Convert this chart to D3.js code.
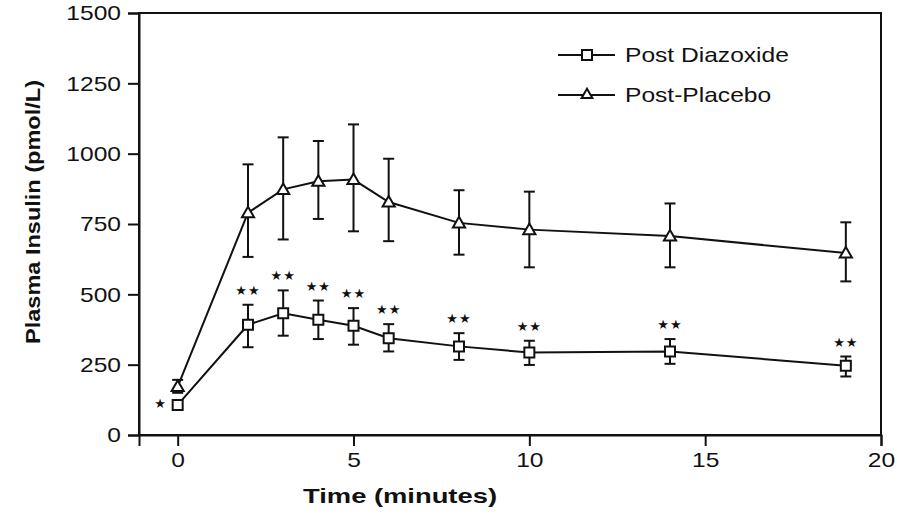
<!DOCTYPE html>
<html><head><meta charset="utf-8">
<script src="https://cdn.jsdelivr.net/npm/d3@7"></script>
<style>body{margin:0;background:#fff}svg{display:block}</style>
</head><body>
<svg id="c" width="897" height="516"></svg>
<script>
const times = [0, 2, 3, 4, 5, 6, 8, 10, 14, 19];
const placeboMean = [172, 790, 873, 902, 908, 828, 754, 730, 707, 647];
const placeboUpper = [196, 962, 1058, 1045, 1104, 982, 870, 865, 823, 756];
const placeboLower = [150, 633, 695, 768, 724, 689, 641, 596, 596, 546];
const diazMean = [107, 392, 433, 410, 388, 344, 315, 293, 297, 246];
const diazUpper = [107, 463, 514, 478, 451, 394, 362, 335, 341, 279];
const diazLower = [107, 312, 353, 341, 321, 297, 267, 249, 253, 208];
const signif = ["*", "**", "**", "**", "**", "**", "**", "**", "**", "**"];
const yTicks = [0, 250, 500, 750, 1000, 1250, 1500];
const xTicks = [0, 5, 10, 15, 20];
const seriesNames = ["Post Diazoxide", "Post-Placebo"];
const xTitle = "Time (minutes)";
const yTitle = "Plasma Insulin (pmol/L)";

const svg = d3.select("#c");
const L = 139, R = 881, T = 13, B = 435;
const x = d3.scaleLinear().domain([-1.1, 20]).range([L, R]);
const y = d3.scaleLinear().domain([0, 1500]).range([B, T]);
const FONT = "'Liberation Sans', Arial, sans-serif";
const STRETCH = 1.17;

// frame
svg.append("rect").attr("x", L).attr("y", T).attr("width", R - L).attr("height", B - T)
  .attr("fill", "none").attr("stroke", "#111").attr("stroke-width", 2);

const yAxis = svg.append("g").attr("transform", `translate(${L},0)`)
  .call(d3.axisLeft(y).tickValues(yTicks).tickSize(11).tickPadding(7).tickFormat(d3.format("d")));
const xAxis = svg.append("g").attr("transform", `translate(0,${B})`)
  .call(d3.axisBottom(x).tickValues(xTicks).tickSize(11).tickPadding(6).tickFormat(d3.format("d")));
[yAxis, xAxis].forEach(g => {
  g.select(".domain").attr("stroke", "#111").attr("stroke-width", 2);
  g.selectAll(".tick line").attr("stroke", "#111").attr("stroke-width", 2);
  g.selectAll(".tick text").attr("font-family", FONT).attr("font-size", 21).attr("fill", "#111");
});

// titles
svg.append("text").attr("x", 400).attr("y", 503).attr("text-anchor", "middle")
  .attr("font-family", FONT).attr("font-weight", "bold").attr("font-size", 21).attr("fill", "#111")
  .attr("textLength", 194).attr("lengthAdjust", "spacingAndGlyphs").text(xTitle);
svg.append("text").attr("transform", "translate(40,212) rotate(-90)").attr("text-anchor", "middle")
  .attr("font-family", FONT).attr("font-weight", "bold").attr("font-size", 21).attr("fill", "#111")
  .attr("textLength", 264).attr("lengthAdjust", "spacingAndGlyphs").text(yTitle);

const line = d3.line().x(d => x(d[0])).y(d => y(d[1]));
const series = [
  {mean: diazMean, up: diazUpper, lo: diazLower, sym: d3.symbolSquare, size: 100},
  {mean: placeboMean, up: placeboUpper, lo: placeboLower, sym: d3.symbolTriangle, size: 64}
];

series.forEach(s => {
  const pts = times.map((t, i) => [t, s.mean[i]]);
  svg.append("path").attr("d", line(pts)).attr("fill", "none").attr("stroke", "#111").attr("stroke-width", 2);
  const eb = svg.append("g").attr("stroke", "#111").attr("stroke-width", 2);
  times.forEach((t, i) => {
    if (s.up[i] === s.lo[i]) return;
    const cx = x(t);
    eb.append("line").attr("x1", cx).attr("x2", cx).attr("y1", y(s.up[i])).attr("y2", y(s.lo[i]));
    eb.append("line").attr("x1", cx - 5.5).attr("x2", cx + 5.5).attr("y1", y(s.up[i])).attr("y2", y(s.up[i]));
    eb.append("line").attr("x1", cx - 5.5).attr("x2", cx + 5.5).attr("y1", y(s.lo[i])).attr("y2", y(s.lo[i]));
  });
});
series.forEach(s => {
  svg.append("g").selectAll("path").data(times).join("path")
    .attr("transform", (t, i) => `translate(${x(t)},${y(s.mean[i]) + (s.sym === d3.symbolTriangle ? 1 : 0)})`)
    .attr("d", d3.symbol().type(s.sym).size(s.size))
    .attr("fill", "#fff").attr("stroke", "#111").attr("stroke-width", 2);
});

// significance markers
svg.append("g").selectAll("text").data(times).join("text")
  .attr("x", (t, i) => i === 0 ? x(t) - 17 : x(t))
  .attr("y", (t, i) => i === 0 ? y(diazMean[i]) + 3 : y(diazUpper[i]) - 10)
  .attr("text-anchor", "middle")
  .attr("font-family", "'DejaVu Sans', sans-serif").attr("font-size", 13).attr("fill", "#111")
  .attr("letter-spacing", 1)
  .text((t, i) => signif[i].replace(/\*/g, "\u2605"));

// legend
const legend = [
  {name: seriesNames[0], sym: d3.symbolSquare, size: 100, yy: 55},
  {name: seriesNames[1], sym: d3.symbolTriangle, size: 50, yy: 95}
];
legend.forEach(l => {
  svg.append("line").attr("x1", 558).attr("x2", 615).attr("y1", l.yy).attr("y2", l.yy)
    .attr("stroke", "#111").attr("stroke-width", 2);
  svg.append("path").attr("transform", `translate(587,${l.yy})`).attr("d", d3.symbol().type(l.sym).size(l.size))
    .attr("fill", "#fff").attr("stroke", "#111").attr("stroke-width", 2);
  svg.append("text").attr("x", 625).attr("y", l.yy + 7).attr("font-family", FONT).attr("font-size", 21)
    .attr("fill", "#111").attr("class", "stretch").text(l.name);
});

// horizontal stretch of the plain texts, as in the scanned original
svg.selectAll(".tick text, text.stretch").each(function () {
  const w = this.getComputedTextLength();
  d3.select(this).attr("textLength", w * STRETCH).attr("lengthAdjust", "spacingAndGlyphs");
});
</script>
</body></html>
